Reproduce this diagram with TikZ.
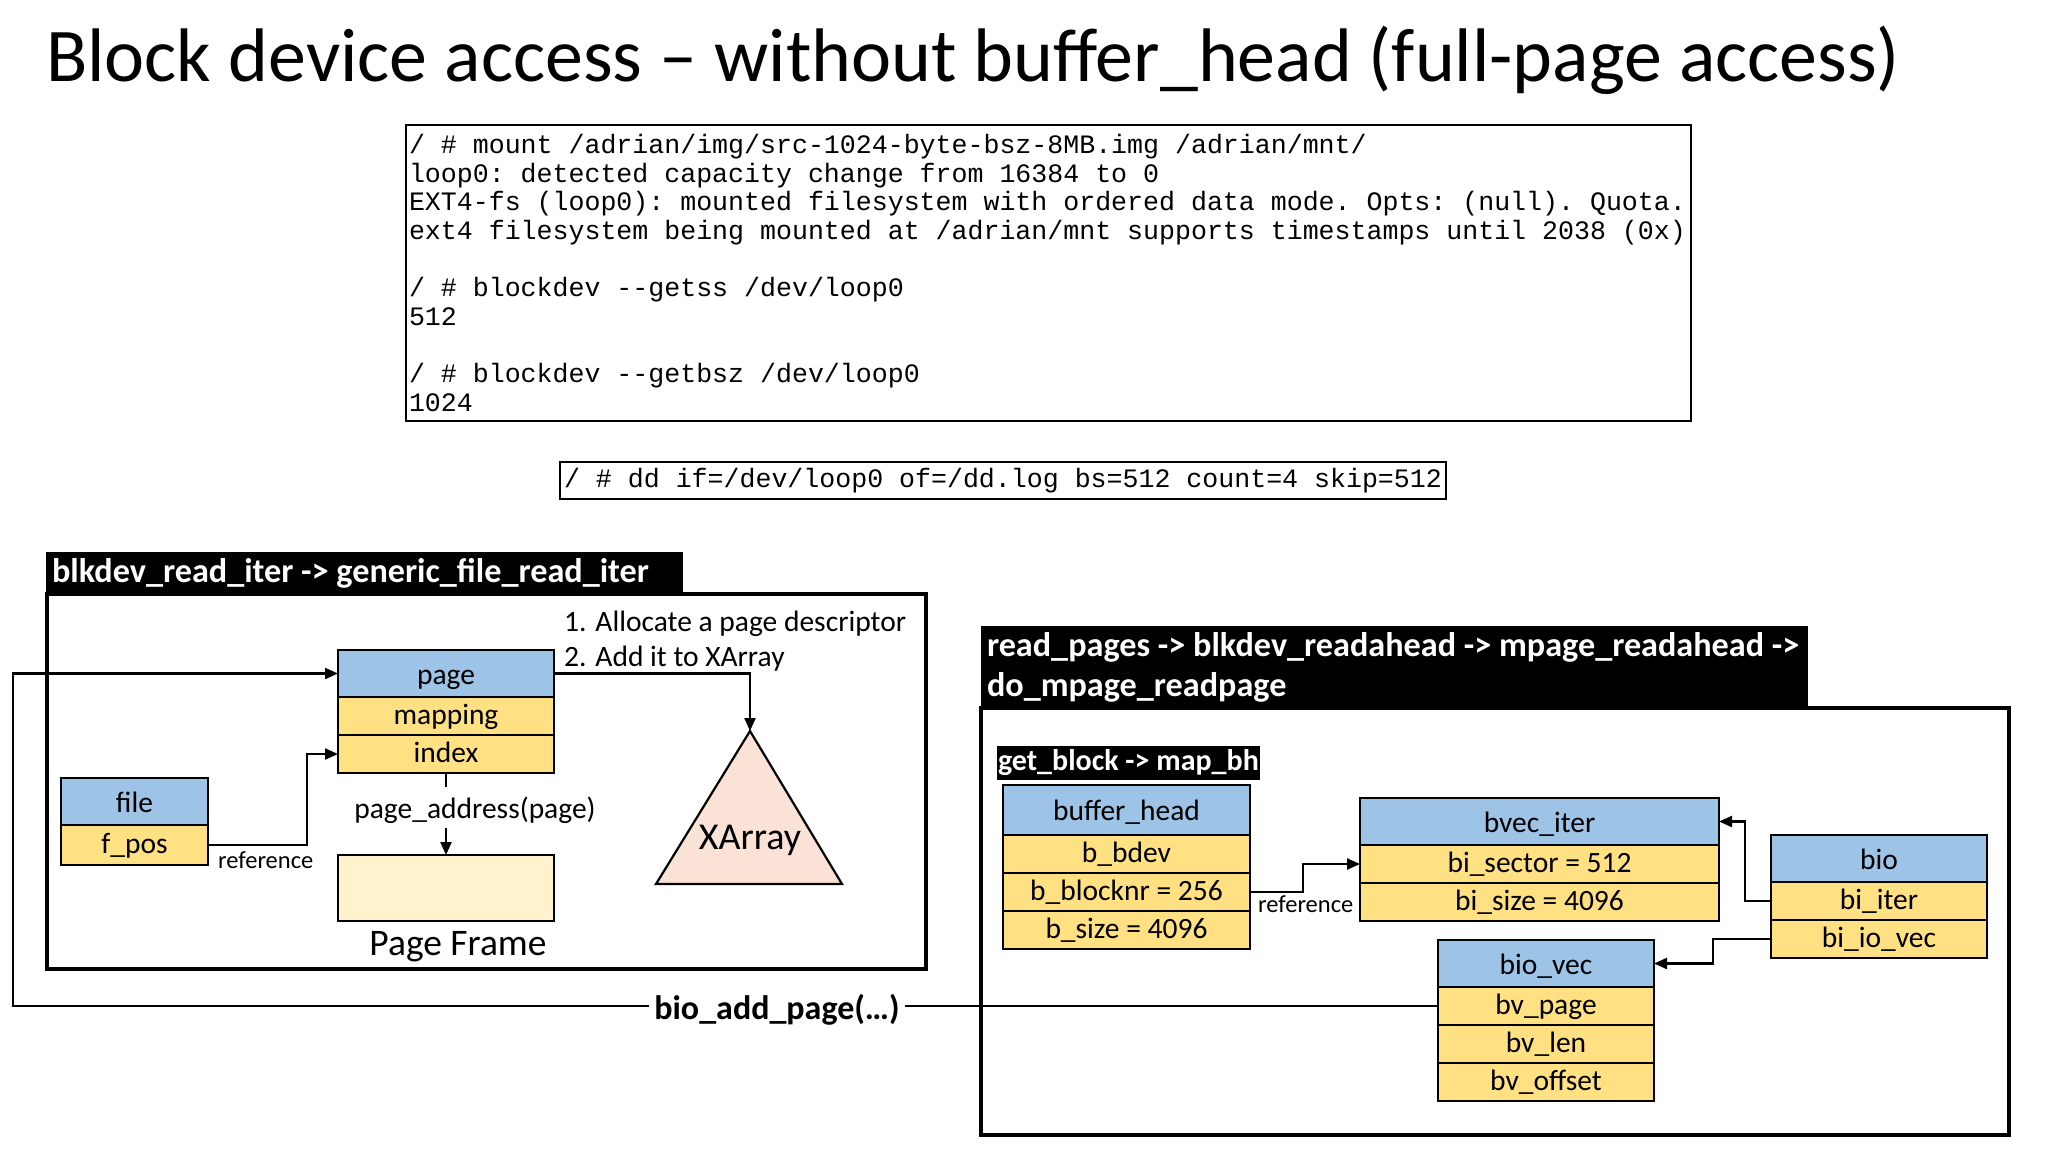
\documentclass[tikz,border=0pt]{standalone}
\usepackage{fontspec}
\setmainfont{Carlito}
\newfontfamily\codefont{Liberation Mono}[Ligatures=TeXOff, WordSpace={1,0,0}]
\usetikzlibrary{arrows.meta,positioning}
\definecolor{hdrblue}{HTML}{9DC3E6}
\definecolor{fldgold}{HTML}{FFE083}
\definecolor{pagecream}{HTML}{FFF2CC}
\definecolor{xapeach}{HTML}{FBE2D6}

\begin{document}
\begin{tikzpicture}[
  x=1pt, y=-1pt,
  font=\fontsize{29.5}{35}\selectfont,
  row/.style={
    draw,
    line width=2.2pt,
    inner sep=0pt,
    outer sep=0pt,
    align=center,
    text depth=0pt,
    text=black
  },
  hdr/.style={row, fill=hdrblue, text height=21pt, minimum width=#1, minimum height=47pt},
  fld/.style={row, fill=fldgold, text height=16pt, minimum width=#1, minimum height=38pt},
  bar/.style={
    fill=black,
    text=white,
    font=\bfseries\fontsize{34.2}{40}\selectfont,
    align=left,
    execute at begin node={\spaceskip=0pt\xspaceskip=0pt\frenchspacing},
    inner ysep=0pt,
    inner xsep=6pt,
    outer sep=0pt,
    anchor=north west
  },
  frame/.style={
    draw,
    line width=3.5pt,
    anchor=north west,
    inner sep=0pt,
    outer sep=0pt
  },
  codebox/.style={
    draw,
    line width=2pt,
    font=\codefont\fontsize{26.6}{28.7}\selectfont,
    align=left,
    execute at begin node={\spaceskip=0pt\xspaceskip=0pt\frenchspacing},
    inner sep=3pt,
    outer sep=0pt
  },
  link/.style={line width=2.2pt},
  flow/.style={
    link,
    -{Triangle[length=13pt,width=11pt]}
  },
  note/.style={
    font=\fontsize{24.5}{28}\selectfont,
    inner sep=0pt,
    anchor=base west
  }
]

\path[fill=white, use as bounding box] (0,0) rectangle (2048,1152);

\node[anchor=base west, inner sep=0pt, font=\fontsize{75.9}{80}\selectfont]
  (title) at (46,81)
  {Block device access – without buffer\_head (full-page access)};

\node[codebox, anchor=north west, text width=1279pt, minimum height=296pt]
  (mountlog) at (406,125)
  {/ \# mount /adrian/img/src-1024-byte-bsz-8MB.img /adrian/mnt/\\
   loop0: detected capacity change from 16384 to 0\\
   EXT4-fs (loop0): mounted filesystem with ordered data mode. Opts: (null). Quota.\\
   ext4 filesystem being mounted at /adrian/mnt supports timestamps until 2038 (0x)\\[28.7pt]
   / \# blockdev --getss /dev/loop0\\
   512\\[28.7pt]
   / \# blockdev --getbsz /dev/loop0\\
   1024};

\node[codebox, minimum height=37pt, inner xsep=4pt]
  (ddcmd) at (1003,480.5)
  {/ \# dd if=/dev/loop0 of=/dd.log bs=512 count=4 skip=512};

\node[frame, minimum width=879pt, minimum height=375pt] (leftfr) at (47,594) {};
\node[frame, minimum width=1028pt, minimum height=427pt] (rightfr) at (981,708) {};

\node[bar, text width=625pt, minimum height=42pt]
  (leftbar) at (46,552)
  {blkdev\_read\_iter -> generic\_file\_read\_iter};

\node[bar, text width=815pt, minimum height=82pt]
  (rightbar) at (981,626)
  {read\_pages -> blkdev\_readahead -> mpage\_readahead ->\\
   do\_mpage\_readpage};

\node[bar, inner xsep=1pt, minimum width=261pt, minimum height=34pt,
  font=\bfseries\fontsize{30}{32}\selectfont]
  (gbbar) at (997,746)
  {get\_block -> map\_bh};

\node[anchor=base west, inner sep=0pt] (step1) at (564,631) {1. Allocate a page descriptor};
\node[anchor=base west, inner sep=0pt] (step2) at (564,666) {2. Add it to XArray};

\node[hdr=216pt, anchor=north west] (page) at (338,650) {page};
\node[fld=216pt, below=0pt of page] (mapping) {mapping};
\node[fld=216pt, below=0pt of mapping] (index) {index};

\node[hdr=147pt, anchor=north west] (file) at (61,778) {file};
\node[fld=147pt, minimum height=40pt, below=0pt of file] (fpos) {f\_pos};

\node[row, fill=pagecream, minimum width=216pt, minimum height=66pt, anchor=north west]
  (pframe) at (338,855) {};
\node[anchor=base, inner sep=0pt, font=\fontsize{37.5}{40}\selectfont]
  (pflabel) at (458,955) {Page Frame};

\node[anchor=base, inner sep=0pt] (paddr) at (475,818) {page\_address(page)};

\coordinate (xatop) at (750,731);
\draw[link, fill=xapeach] (xatop) -- (842,884) -- (656,884) -- cycle;
\node[anchor=base, inner sep=0pt, font=\fontsize{38}{40}\selectfont]
  (xarray) at (750,849) {XArray};

\node[hdr=247pt, minimum height=50pt, anchor=north west] (bufhead) at (1003,785) {buffer\_head};
\node[fld=247pt, below=0pt of bufhead] (bbdev) {b\_bdev};
\node[fld=247pt, below=0pt of bbdev] (bblocknr) {b\_blocknr = 256};
\node[fld=247pt, below=0pt of bblocknr] (bsize) {b\_size = 4096};

\node[hdr=359pt, anchor=north west] (bvecit) at (1360,798) {bvec\_iter};
\node[fld=359pt, below=0pt of bvecit] (bisector) {bi\_sector = 512};
\node[fld=359pt, below=0pt of bisector] (bisize) {bi\_size = 4096};

\node[hdr=216pt, anchor=north west] (bio) at (1771,835) {bio};
\node[fld=216pt, below=0pt of bio] (biiter) {bi\_iter};
\node[fld=216pt, below=0pt of biiter] (biiovec) {bi\_io\_vec};

\node[hdr=216pt, anchor=north west] (biovec) at (1438,940) {bio\_vec};
\node[fld=216pt, below=0pt of biovec] (bvpage) {bv\_page};
\node[fld=216pt, below=0pt of bvpage] (bvlen) {bv\_len};
\node[fld=216pt, below=0pt of bvlen] (bvoffset) {bv\_offset};

\node[note] (ref1) at (218,868) {reference};
\node[note] (ref2) at (1258,912) {reference};

\draw[flow] (fpos.east) -- ++(99,0) |- (index.west);
\draw[flow] (page.east) -| (xatop);
\draw[link] (index.south) -- ([yshift=-14pt]index.south);
\draw[flow] ([yshift=27pt]pframe.north) -- (pframe.north);

\draw[flow] (bblocknr.east) -- ++(53,0) |- (bisector.west);
\draw[flow] (biiter.west) -- ++(-26,0) |- (bvecit.east);
\draw[flow] (biiovec.west) -- ++(-58,0) |- (biovec.east);

\draw[flow] (bvpage.west) -- (13,1006) |- (page.west);

\node[fill=white, inner xsep=5pt, inner ysep=2pt, anchor=base,
  font=\bfseries\fontsize{34}{36}\selectfont]
  (bioadd) at (777,1019) {bio\_add\_page(…)};

\end{tikzpicture}
\end{document}
